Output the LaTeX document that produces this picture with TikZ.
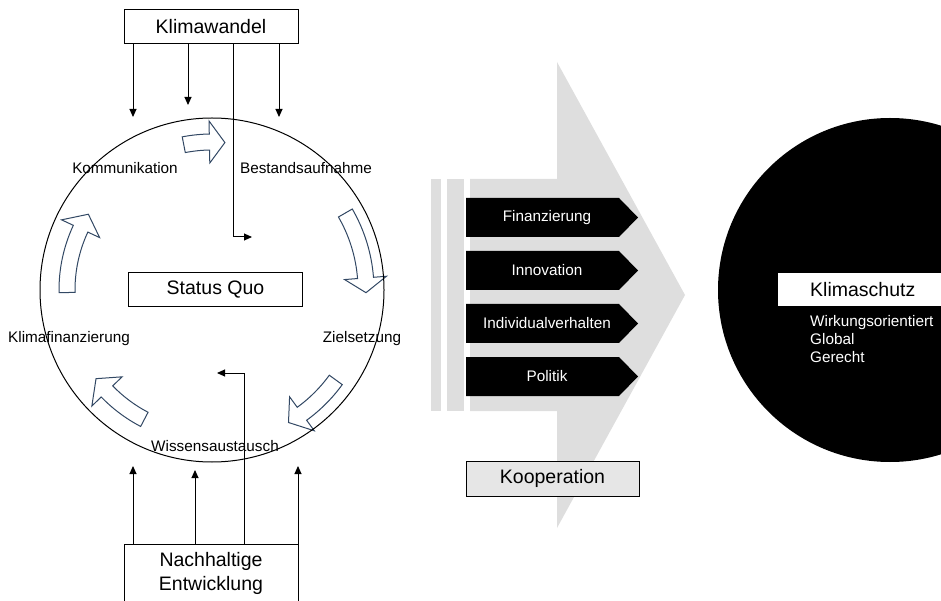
\documentclass[tikz,border=0pt]{standalone}
\usepackage{fontspec}
\setmainfont{Liberation Sans}
\usetikzlibrary{arrows.meta}
\definecolor{arrowblue}{RGB}{50,72,100}
\definecolor{biggrey}{RGB}{222,222,222}
\definecolor{koopgrey}{RGB}{230,230,230}
\newcommand\bigfnt{\fontsize{19.5pt}{24pt}\selectfont}
\newcommand\smallfnt{\fontsize{15.3pt}{18pt}\selectfont}
\newcommand\hollowarrow[4]{%
  \pgfmathsetmacro\hRi{#4-8}%
  \pgfmathsetmacro\hRo{#4+8}%
  \pgfmathsetmacro\hHi{#4-21}%
  \pgfmathsetmacro\hHo{#4+21}%
  \draw[cycarrow, shift={(212,310)}] (#1:\hRi pt) arc[start angle=#1, end angle=#2, radius=\hRi pt]
    -- (#2:\hHi pt) -- (#3:#4pt) -- (#2:\hHo pt) -- (#2:\hRo pt)
    arc[start angle=#2, end angle=#1, radius=\hRo pt] -- cycle;}
\begin{document}
\begin{tikzpicture}[x=1pt,y=1pt,
  box/.style={draw, line width=1pt, minimum width=174pt, minimum height=34pt, inner sep=0pt, font=\bigfnt},
  conn/.style={line width=1pt, -{Triangle[length=8pt,width=7pt]}},
  lab/.style={font=\smallfnt, inner sep=0pt},
  cycarrow/.style={draw=arrowblue, fill=white, line width=1pt, line join=miter},
  blklab/.style={font=\smallfnt, text=white, inner sep=0pt}]
\clip (0,0) rectangle (941,600);

% ---------- left: cycle ----------
\hollowarrow{101}{91}{85}{148}
\hollowarrow{30}{4.5}{-1}{154}
\hollowarrow{-36}{-54}{-60}{153}
\hollowarrow{-117.6}{-136}{-142.6}{146}
\hollowarrow{181}{155}{148.5}{145}
\node (cyc) [circle, draw, line width=1pt, minimum size=344pt, inner sep=0pt] at (212,310) {};

\node (kw) [box] at (211,573) {Klimawandel};
\node (sq) [box] at (215.5,310) {Status Quo};
\node (ne) [box, minimum height=58pt, align=center] at (211,27) {Nachhaltige\\Entwicklung};

\node (l1) [lab] at (125,432) {Kommunikation};
\node (l2) [lab] at (306,432) {Bestandsaufnahme};
\node (l3) [lab] at (69,261) {Klimafinanzierung};
\node (l4) [lab] at (362,261) {Zielsetzung};
\node (l5) [lab] at (215,154) {Wissensaustausch};

% top connectors
\coordinate (t1) at (133,483);
\coordinate (t2) at (188,495);
\coordinate (t4) at (279,483);
\coordinate (k3) at (233,363);
\coordinate (t3) at (252,363);
\draw[conn] (kw.south -| t1) -- (t1);
\draw[conn] (kw.south -| t2) -- (t2);
\draw[conn] (kw.south -| t4) -- (t4);
\draw[conn] (kw.south -| k3) -- (k3) -- (t3);

% bottom connectors
\coordinate (b1) at (133,134);
\coordinate (b2) at (195,130);
\coordinate (b4) at (298,134);
\coordinate (m3) at (244,227);
\coordinate (b3) at (217,227);
\draw[conn] (ne.north -| b1) -- (b1);
\draw[conn] (ne.north -| b2) -- (b2);
\draw[conn] (ne.north -| b4) -- (b4);
\draw[conn] (ne.north -| m3) -- (m3) -- (b3);

% ---------- middle: big grey arrow ----------
\fill[biggrey] (470,421) -- (557,421) -- (557,538) -- (685,305) -- (557,72) -- (557,189) -- (470,189) -- cycle;
\fill[biggrey] (431,189) rectangle (441,421);
\fill[biggrey] (447,189) rectangle (464,421);

\foreach \yc/\nm/\txt in {382.5/fin/Finanzierung, 329.5/inn/Innovation, 276.5/ind/Individualverhalten, 223.5/pol/Politik}{
  \fill[black] (466,\yc-19.5) -- (619,\yc-19.5) -- (638,\yc) -- (619,\yc+19.5) -- (466,\yc+19.5) -- cycle;
  \node (\nm) [blklab] at (547,\yc) {\txt};
}

\node (koop) [draw, fill=koopgrey, line width=1pt, minimum width=173pt, minimum height=35pt, inner sep=0pt, font=\bigfnt] at (552.5,121.5) {Kooperation};

% ---------- right: black circle ----------
\node (goal) [circle, fill=black, minimum size=344pt, inner sep=0pt] at (890,310) {};
\node (ks) [fill=white, anchor=west, minimum height=33pt, inner xsep=32pt, inner ysep=0pt, text width=150pt, align=left, font=\bigfnt] at (778,310.5) {Klimaschutz};
\node (kl) [anchor=north west, inner sep=0pt, align=left, text=white, font=\smallfnt] at (810,285) {Wirkungsorientiert\\Global\\Gerecht};
\end{tikzpicture}
\end{document}
